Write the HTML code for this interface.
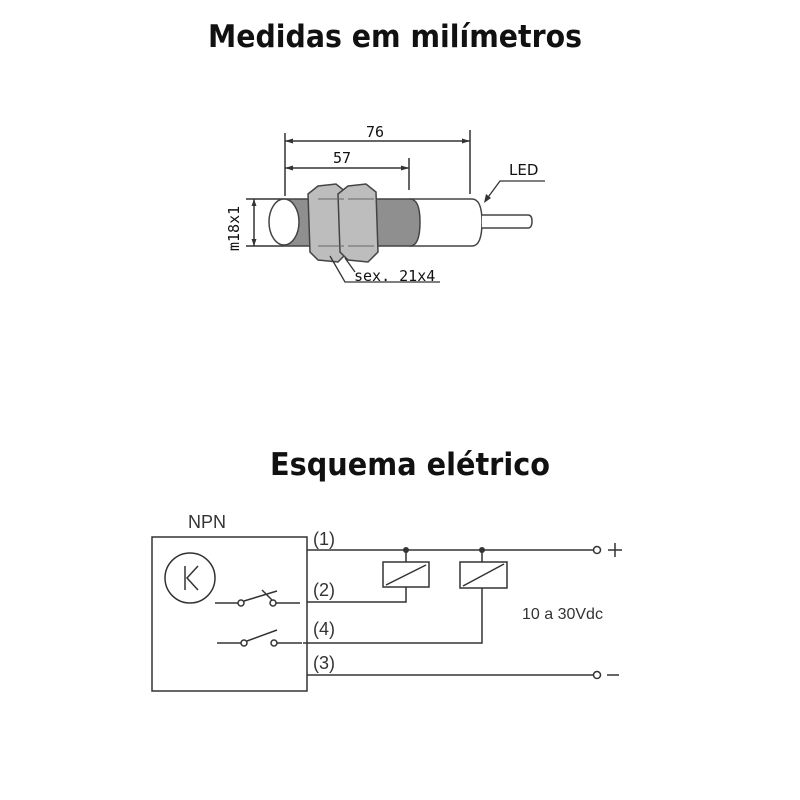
<!DOCTYPE html>
<html><head><meta charset="utf-8"><style>
html,body{margin:0;padding:0;background:#fff;width:800px;height:800px;overflow:hidden}
svg{display:block}
</style></head><body>
<svg width="800" height="800" viewBox="0 0 800 800" xmlns="http://www.w3.org/2000/svg">
<g font-family="'DejaVu Sans',sans-serif" font-weight="bold" fill="#111">
<text x="208" y="47" font-size="31" textLength="374" lengthAdjust="spacingAndGlyphs">Medidas em milímetros</text>
<text x="270" y="475" font-size="31" textLength="280" lengthAdjust="spacingAndGlyphs">Esquema elétrico</text>
</g>
<!-- sensor drawing -->
<g stroke="#333" stroke-width="1.5" fill="none">
<line x1="285" y1="133" x2="285" y2="196"/>
<line x1="470" y1="130" x2="470" y2="194"/>
<line x1="409" y1="158" x2="409" y2="190"/>
<line x1="285" y1="141" x2="470" y2="141"/>
<line x1="285" y1="168" x2="409" y2="168"/>
<line x1="246" y1="199" x2="284" y2="199"/>
<line x1="246" y1="246" x2="284" y2="246"/>
<line x1="254" y1="199" x2="254" y2="246"/>
</g>
<g fill="#333">
<polygon points="285,141 293,138.5 293,143.5"/><polygon points="470,141 462,138.5 462,143.5"/>
<polygon points="285,168 293,165.5 293,170.5"/><polygon points="409,168 401,165.5 401,170.5"/>
<polygon points="254,199 251.5,206 256.5,206"/><polygon points="254,246 251.5,239 256.5,239"/>
</g>
<!-- back body -->
<path d="M410 199 L472 199 Q482 199 482 222 Q482 246 472 246 L410 246 Z" fill="#fff" stroke="#444" stroke-width="1.5"/>
<path d="M482 215 L528 215 Q532 215 532 221 Q532 228 528 228 L482 228" fill="#fff" stroke="#444" stroke-width="1.5"/>
<!-- thread -->
<path d="M284 199 L410 199 Q420 199 420 222 Q420 246 410 246 L284 246 Z" fill="#8f8f8f" stroke="#444" stroke-width="1.5"/>
<ellipse cx="284" cy="222" rx="15" ry="23" fill="#fff" stroke="#444" stroke-width="1.5"/>
<!-- nuts -->
<g fill="#bdbdbd" stroke="#444" stroke-width="1.5">
<path d="M318 186 L336 184 L346 192 L348 252 L338 262 L318 260 L310 252 L308 194 Z"/>
<path d="M348 186 L366 184 L376 192 L378 252 L368 262 L348 260 L340 252 L338 194 Z"/>
</g>
<g stroke="#666" stroke-width="1" fill="none">
<line x1="318" y1="199" x2="344" y2="199"/><line x1="318" y1="246" x2="344" y2="246"/>
<line x1="348" y1="199" x2="374" y2="199"/><line x1="348" y1="246" x2="374" y2="246"/>
</g>
<g stroke="#333" stroke-width="1.3" fill="none">
<polyline points="330,256 345,282 440,282"/>
<polyline points="345,258 355,272"/>
<polyline points="545,181 500,181 486,200"/>
</g>
<polygon points="484,203 486,194 491,198" fill="#333"/>
<g font-family="'DejaVu Sans Mono','Liberation Mono',monospace" font-size="15" fill="#111">
<text x="366" y="137">76</text>
<text x="333" y="163">57</text>
<text x="509" y="175" font-family="'DejaVu Sans',sans-serif" font-size="15">LED</text>
<text x="354" y="281">sex. 21x4</text>
<text transform="translate(239,251) rotate(-90)">m18x1</text>
</g>
<!-- schematic -->
<g stroke="#333" stroke-width="1.5" fill="none">
<rect x="152" y="537" width="155" height="154"/>
<circle cx="190" cy="578" r="25"/>
<line x1="307" y1="550" x2="593" y2="550"/>
<line x1="307" y1="675" x2="593" y2="675"/>
<polyline points="307,602 406,602 406,587"/>
<polyline points="303,643 482,643 482,588"/>
<line x1="406" y1="550" x2="406" y2="562"/>
<line x1="482" y1="550" x2="482" y2="562"/>
<rect x="383" y="562" width="46" height="25"/>
<rect x="460" y="562" width="47" height="26"/>
<line x1="386" y1="585" x2="426" y2="565"/>
<line x1="463" y1="586" x2="504" y2="564"/>
<line x1="215" y1="603" x2="238" y2="603"/>
<circle cx="241" cy="603" r="3"/>
<circle cx="273" cy="603" r="3"/>
<line x1="244" y1="601" x2="277" y2="591"/>
<line x1="262" y1="590" x2="272" y2="600"/>
<line x1="276" y1="603" x2="300" y2="603"/>
<line x1="217" y1="643" x2="241" y2="643"/>
<circle cx="244" cy="643" r="3"/>
<circle cx="274" cy="643" r="3"/>
<line x1="247" y1="641" x2="277" y2="630"/>
<line x1="277" y1="643" x2="302" y2="643"/>
<circle cx="597" cy="550" r="3.5"/>
<circle cx="597" cy="675" r="3.5"/>
<line x1="608" y1="550" x2="622" y2="550"/>
<line x1="615" y1="543" x2="615" y2="557"/>
<line x1="607" y1="675" x2="619" y2="675"/>
<polyline points="185,566 185,590"/>
<polyline points="198,566 187,578 198,590"/>
</g>
<circle cx="406" cy="550" r="3" fill="#333"/>
<circle cx="482" cy="550" r="3" fill="#333"/>
<g font-family="'Liberation Sans',sans-serif" font-size="18" fill="#333">
<text x="188" y="528">NPN</text>
<text x="313" y="545">(1)</text>
<text x="313" y="596">(2)</text>
<text x="313" y="635">(4)</text>
<text x="313" y="669">(3)</text>
<text x="522" y="619" font-size="16">10 a 30Vdc</text>
</g>
</svg>
</body></html>
